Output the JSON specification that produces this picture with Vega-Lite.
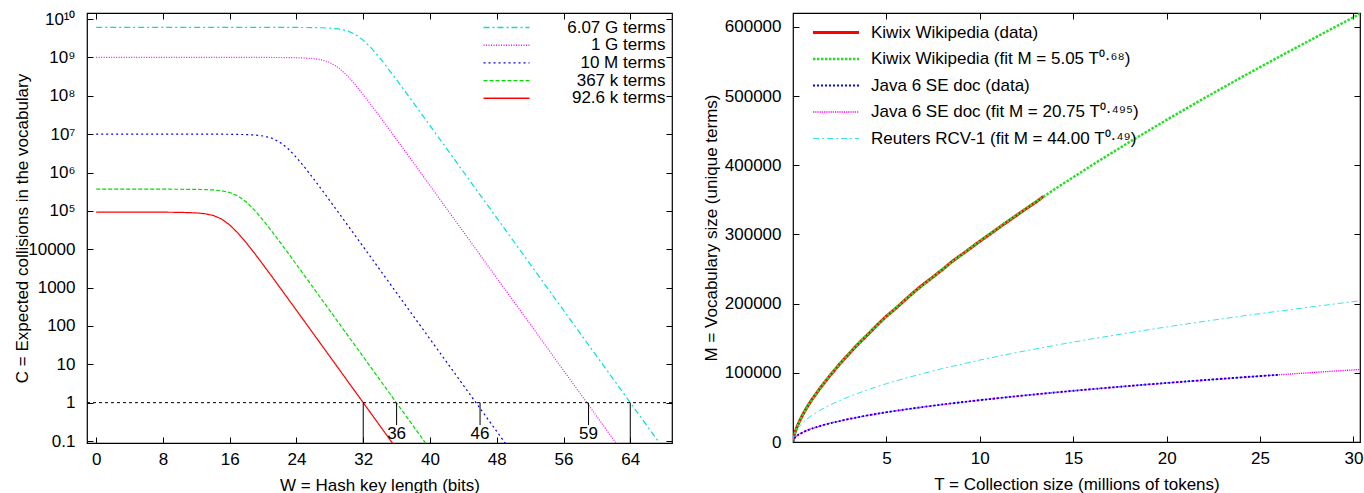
{
  "$schema": "https://vega.github.io/schema/vega-lite/v6.json",
  "padding": {"left": 13, "top": 9, "right": 0, "bottom": 0},
  "config": {
    "font": "Liberation Sans",
    "view": {"stroke": "#000", "strokeWidth": 1.2},
    "axis": {
      "labelFont": "Liberation Sans", "labelFontSize": 17, "labelColor": "#000",
      "titleFont": "Liberation Sans", "titleFontSize": 17, "titleFontWeight": "normal", "titleColor": "#000",
      "tickColor": "#000", "tickSize": -6, "tickWidth": 1, "domain": false, "grid": false
    },
    "axisX": {"labelPadding": 14, "titlePadding": 10},
    "axisY": {"labelPadding": 18, "titlePadding": -4},
    "legend": {"labelFont": "Liberation Sans", "labelFontSize": 17, "labelColor": "#000", "labelLimit": 500},
    "concat": {"spacing": 27}
  },
  "resolve": {
    "scale": {"color": "independent", "strokeDash": "independent", "strokeWidth": "independent"},
    "legend": {"color": "independent", "strokeDash": "independent", "strokeWidth": "independent"}
  },
  "hconcat": [
    {
      "width": 585,
      "height": 430,
      "layer": [
        {
          "data": {"values": [
            {"series": "6.07 G terms", "W": 0, "C": 6070000000},
            {"series": "6.07 G terms", "W": 20, "C": 6069000000},
            {"series": "6.07 G terms", "W": 24, "C": 6053000000},
            {"series": "6.07 G terms", "W": 26, "C": 6003000000},
            {"series": "6.07 G terms", "W": 27, "C": 5936000000},
            {"series": "6.07 G terms", "W": 28, "C": 5802000000},
            {"series": "6.07 G terms", "W": 29, "C": 5533000000},
            {"series": "6.07 G terms", "W": 30, "C": 5000000000},
            {"series": "6.07 G terms", "W": 31, "C": 4050000000},
            {"series": "6.07 G terms", "W": 32, "C": 2820000000},
            {"series": "6.07 G terms", "W": 33, "C": 1717000000},
            {"series": "6.07 G terms", "W": 34, "C": 957000000},
            {"series": "6.07 G terms", "W": 35, "C": 505900000},
            {"series": "6.07 G terms", "W": 36, "C": 260400000},
            {"series": "6.07 G terms", "W": 37, "C": 132100000},
            {"series": "6.07 G terms", "W": 38, "C": 66520000},
            {"series": "6.07 G terms", "W": 39, "C": 33390000},
            {"series": "6.07 G terms", "W": 40, "C": 16725000},
            {"series": "6.07 G terms", "W": 42, "C": 4186000},
            {"series": "6.07 G terms", "W": 44, "C": 1047000},
            {"series": "6.07 G terms", "W": 46, "C": 261800},
            {"series": "6.07 G terms", "W": 48, "C": 65450},
            {"series": "6.07 G terms", "W": 50, "C": 16360},
            {"series": "6.07 G terms", "W": 52, "C": 4090},
            {"series": "6.07 G terms", "W": 54, "C": 1023},
            {"series": "6.07 G terms", "W": 56, "C": 256},
            {"series": "6.07 G terms", "W": 58, "C": 63.9},
            {"series": "6.07 G terms", "W": 60, "C": 16.0},
            {"series": "6.07 G terms", "W": 62, "C": 4.0},
            {"series": "6.07 G terms", "W": 64, "C": 1.0},
            {"series": "6.07 G terms", "W": 66, "C": 0.25},
            {"series": "6.07 G terms", "W": 68, "C": 0.0624},
            {"series": "6.07 G terms", "W": 69, "C": 0.031},
            {"series": "1 G terms", "W": 0, "C": 1000000000},
            {"series": "1 G terms", "W": 16, "C": 999934000},
            {"series": "1 G terms", "W": 20, "C": 998950000},
            {"series": "1 G terms", "W": 22, "C": 995800000},
            {"series": "1 G terms", "W": 24, "C": 983200000},
            {"series": "1 G terms", "W": 25, "C": 966400000},
            {"series": "1 G terms", "W": 26, "C": 932900000},
            {"series": "1 G terms", "W": 27, "C": 865900000},
            {"series": "1 G terms", "W": 28, "C": 738000000},
            {"series": "1 G terms", "W": 29, "C": 546500000},
            {"series": "1 G terms", "W": 30, "C": 349400000},
            {"series": "1 G terms", "W": 31, "C": 200600000},
            {"series": "1 G terms", "W": 32, "C": 107800000},
            {"series": "1 G terms", "W": 33, "C": 56020000},
            {"series": "1 G terms", "W": 34, "C": 28550000},
            {"series": "1 G terms", "W": 35, "C": 14410000},
            {"series": "1 G terms", "W": 36, "C": 7241000},
            {"series": "1 G terms", "W": 37, "C": 3629000},
            {"series": "1 G terms", "W": 38, "C": 1817000},
            {"series": "1 G terms", "W": 40, "C": 454700},
            {"series": "1 G terms", "W": 42, "C": 113700},
            {"series": "1 G terms", "W": 44, "C": 28420},
            {"series": "1 G terms", "W": 46, "C": 7105},
            {"series": "1 G terms", "W": 48, "C": 1776},
            {"series": "1 G terms", "W": 50, "C": 444},
            {"series": "1 G terms", "W": 52, "C": 111},
            {"series": "1 G terms", "W": 54, "C": 27.8},
            {"series": "1 G terms", "W": 56, "C": 6.94},
            {"series": "1 G terms", "W": 58, "C": 1.73},
            {"series": "1 G terms", "W": 60, "C": 0.434},
            {"series": "1 G terms", "W": 62, "C": 0.108},
            {"series": "1 G terms", "W": 64, "C": 0.027},
            {"series": "10 M terms", "W": 0, "C": 10000000},
            {"series": "10 M terms", "W": 10, "C": 9999000},
            {"series": "10 M terms", "W": 14, "C": 9983600},
            {"series": "10 M terms", "W": 16, "C": 9934500},
            {"series": "10 M terms", "W": 18, "C": 9737900},
            {"series": "10 M terms", "W": 19, "C": 9475700},
            {"series": "10 M terms", "W": 20, "C": 8952000},
            {"series": "10 M terms", "W": 21, "C": 7920700},
            {"series": "10 M terms", "W": 22, "C": 6192400},
            {"series": "10 M terms", "W": 23, "C": 4158000},
            {"series": "10 M terms", "W": 24, "C": 2466700},
            {"series": "10 M terms", "W": 25, "C": 1352400},
            {"series": "10 M terms", "W": 26, "C": 709300},
            {"series": "10 M terms", "W": 27, "C": 363480},
            {"series": "10 M terms", "W": 28, "C": 183950},
            {"series": "10 M terms", "W": 29, "C": 92555},
            {"series": "10 M terms", "W": 30, "C": 46422},
            {"series": "10 M terms", "W": 31, "C": 23247},
            {"series": "10 M terms", "W": 32, "C": 11632},
            {"series": "10 M terms", "W": 34, "C": 2910},
            {"series": "10 M terms", "W": 36, "C": 727.6},
            {"series": "10 M terms", "W": 38, "C": 181.9},
            {"series": "10 M terms", "W": 40, "C": 45.5},
            {"series": "10 M terms", "W": 42, "C": 11.4},
            {"series": "10 M terms", "W": 44, "C": 2.84},
            {"series": "10 M terms", "W": 46, "C": 0.71},
            {"series": "10 M terms", "W": 48, "C": 0.178},
            {"series": "10 M terms", "W": 50, "C": 0.044},
            {"series": "367 k terms", "W": 0, "C": 367000},
            {"series": "367 k terms", "W": 8, "C": 366744},
            {"series": "367 k terms", "W": 10, "C": 365976},
            {"series": "367 k terms", "W": 12, "C": 362904},
            {"series": "367 k terms", "W": 13, "C": 358800},
            {"series": "367 k terms", "W": 14, "C": 350600},
            {"series": "367 k terms", "W": 15, "C": 334250},
            {"series": "367 k terms", "W": 16, "C": 301700},
            {"series": "367 k terms", "W": 17, "C": 243900},
            {"series": "367 k terms", "W": 18, "C": 169500},
            {"series": "367 k terms", "W": 19, "C": 103070},
            {"series": "367 k terms", "W": 20, "C": 57360},
            {"series": "367 k terms", "W": 21, "C": 30300},
            {"series": "367 k terms", "W": 22, "C": 15590},
            {"series": "367 k terms", "W": 23, "C": 7908},
            {"series": "367 k terms", "W": 24, "C": 3986},
            {"series": "367 k terms", "W": 25, "C": 1999},
            {"series": "367 k terms", "W": 26, "C": 1003.5},
            {"series": "367 k terms", "W": 28, "C": 250.9},
            {"series": "367 k terms", "W": 30, "C": 62.7},
            {"series": "367 k terms", "W": 32, "C": 15.7},
            {"series": "367 k terms", "W": 34, "C": 3.92},
            {"series": "367 k terms", "W": 36, "C": 0.98},
            {"series": "367 k terms", "W": 38, "C": 0.245},
            {"series": "367 k terms", "W": 40, "C": 0.061},
            {"series": "92.6 k terms", "W": 0, "C": 92599},
            {"series": "92.6 k terms", "W": 8, "C": 92344},
            {"series": "92.6 k terms", "W": 10, "C": 91576},
            {"series": "92.6 k terms", "W": 12, "C": 88500},
            {"series": "92.6 k terms", "W": 13, "C": 84400},
            {"series": "92.6 k terms", "W": 14, "C": 76270},
            {"series": "92.6 k terms", "W": 15, "C": 61780},
            {"series": "92.6 k terms", "W": 16, "C": 43020},
            {"series": "92.6 k terms", "W": 17, "C": 26200},
            {"series": "92.6 k terms", "W": 18, "C": 14580},
            {"series": "92.6 k terms", "W": 19, "C": 7710},
            {"series": "92.6 k terms", "W": 20, "C": 3969},
            {"series": "92.6 k terms", "W": 21, "C": 2014},
            {"series": "92.6 k terms", "W": 22, "C": 1015},
            {"series": "92.6 k terms", "W": 23, "C": 509},
            {"series": "92.6 k terms", "W": 24, "C": 255.5},
            {"series": "92.6 k terms", "W": 26, "C": 63.9},
            {"series": "92.6 k terms", "W": 28, "C": 16.0},
            {"series": "92.6 k terms", "W": 30, "C": 3.99},
            {"series": "92.6 k terms", "W": 32, "C": 1.0},
            {"series": "92.6 k terms", "W": 34, "C": 0.25},
            {"series": "92.6 k terms", "W": 36, "C": 0.0624},
            {"series": "92.6 k terms", "W": 37, "C": 0.031}
          ]},
          "mark": {"type": "line", "clip": true, "strokeWidth": 1.2},
          "encoding": {
            "x": {"field": "W", "type": "quantitative",
              "scale": {"domain": [-1.1, 69], "nice": false, "zero": false},
              "axis": {"orient": "bottom", "values": [0, 8, 16, 24, 32, 40, 48, 56, 64], "title": "W = Hash key length (bits)"}},
            "y": {"field": "C", "type": "quantitative",
              "scale": {"type": "log", "domain": [0.0887, 14400000000], "nice": false},
              "axis": {"orient": "left", "values": [0.1, 1, 10, 100, 1000, 10000, 100000, 1000000, 10000000, 100000000, 1000000000, 10000000000],
                "labelExpr": "datum.value >= 100000 ? (datum.value >= 1e10 ? '10¹⁰' : datum.value >= 1e9 ? '10⁹' : datum.value >= 1e8 ? '10⁸' : datum.value >= 1e7 ? '10⁷' : datum.value >= 1e6 ? '10⁶' : '10⁵') : datum.value >= 1 ? format(datum.value, 'd') : '0.1'",
                "title": "C = Expected collisions in the vocabulary"}},
            "color": {"field": "series", "type": "nominal",
              "scale": {"domain": ["6.07 G terms", "1 G terms", "10 M terms", "367 k terms", "92.6 k terms"],
                        "range": ["#00e0e0", "#ff00ff", "#0000ff", "#00dd00", "#ff0000"]},
              "legend": {"orient": "top-right", "offset": 6, "title": null, "padding": 0, "symbolType": "M-4,0H4", "symbolSize": 132, "symbolStrokeWidth": 1.4, "labelAlign": "right", "labelOffset": 150.5, "rowPadding": -0.3}},
            "strokeDash": {"field": "series", "type": "nominal",
              "scale": {"domain": ["6.07 G terms", "1 G terms", "10 M terms", "367 k terms", "92.6 k terms"],
                        "range": [[6, 3, 2, 3], [1, 1.5], [2, 3], [4, 2], [1, 0]]},
              "legend": {"orient": "top-right", "offset": 6, "title": null, "padding": 0, "symbolType": "M-4,0H4", "symbolSize": 132, "symbolStrokeWidth": 1.4, "labelAlign": "right", "labelOffset": 150.5, "rowPadding": -0.3}}
          }
        },
        {
          "data": {"values": [{"C": 1}]},
          "mark": {"type": "rule", "color": "#000", "strokeWidth": 1, "strokeDash": [3, 3]},
          "encoding": {"y": {"field": "C", "type": "quantitative", "axis": null}}
        },
        {
          "data": {"values": [
            {"W": 32, "top": 1, "bottom": 0.0887},
            {"W": 36, "top": 1, "bottom": 0.26},
            {"W": 46, "top": 1, "bottom": 0.26},
            {"W": 59, "top": 1, "bottom": 0.26},
            {"W": 64, "top": 1, "bottom": 0.0887}
          ]},
          "mark": {"type": "rule", "color": "#000", "strokeWidth": 1},
          "encoding": {
            "x": {"field": "W", "type": "quantitative", "axis": null},
            "y": {"field": "top", "type": "quantitative", "axis": null},
            "y2": {"field": "bottom"}
          }
        },
        {
          "data": {"values": [
            {"W": 36, "C": 0.155, "label": "36"},
            {"W": 46, "C": 0.155, "label": "46"},
            {"W": 59, "C": 0.155, "label": "59"}
          ]},
          "mark": {"type": "text", "font": "Liberation Sans", "fontSize": 17, "color": "#000", "align": "center", "baseline": "middle"},
          "encoding": {
            "x": {"field": "W", "type": "quantitative", "axis": null},
            "y": {"field": "C", "type": "quantitative", "axis": null},
            "text": {"field": "label"}
          }
        },
        {
          "data": {"values": [{"W": 0, "C": 1}]},
          "mark": {"type": "point", "opacity": 0},
          "encoding": {
            "x": {"field": "W", "type": "quantitative", "axis": {"orient": "top", "labels": false, "title": null, "values": [0, 8, 16, 24, 32, 40, 48, 56, 64]}},
            "y": {"field": "C", "type": "quantitative", "axis": {"orient": "right", "labels": false, "title": null, "values": [0.1, 1, 10, 100, 1000, 10000, 100000, 1000000, 10000000, 100000000, 1000000000, 10000000000]}}
          }
        }
      ],
      "resolve": {"axis": {"x": "independent", "y": "independent"}}
    },
    {
      "width": 567,
      "height": 429,
      "layer": [
        {
          "data": {"values": [
            {"series": "Kiwix Wikipedia (data)", "T": 0, "M": 0},
            {"series": "Kiwix Wikipedia (data)", "T": 0.02, "M": 4400},
            {"series": "Kiwix Wikipedia (data)", "T": 0.05, "M": 8300},
            {"series": "Kiwix Wikipedia (data)", "T": 0.1, "M": 13100},
            {"series": "Kiwix Wikipedia (data)", "T": 0.2, "M": 20900},
            {"series": "Kiwix Wikipedia (data)", "T": 0.3, "M": 27200},
            {"series": "Kiwix Wikipedia (data)", "T": 0.5, "M": 38400},
            {"series": "Kiwix Wikipedia (data)", "T": 0.75, "M": 50300},
            {"series": "Kiwix Wikipedia (data)", "T": 1, "M": 60900},
            {"series": "Kiwix Wikipedia (data)", "T": 1.5, "M": 79600},
            {"series": "Kiwix Wikipedia (data)", "T": 2, "M": 96700},
            {"series": "Kiwix Wikipedia (data)", "T": 2.5, "M": 112600},
            {"series": "Kiwix Wikipedia (data)", "T": 3, "M": 127600},
            {"series": "Kiwix Wikipedia (data)", "T": 3.5, "M": 142000},
            {"series": "Kiwix Wikipedia (data)", "T": 4, "M": 155200},
            {"series": "Kiwix Wikipedia (data)", "T": 4.5, "M": 168900},
            {"series": "Kiwix Wikipedia (data)", "T": 5, "M": 181800},
            {"series": "Kiwix Wikipedia (data)", "T": 5.5, "M": 193100},
            {"series": "Kiwix Wikipedia (data)", "T": 6, "M": 205300},
            {"series": "Kiwix Wikipedia (data)", "T": 6.5, "M": 217400},
            {"series": "Kiwix Wikipedia (data)", "T": 7, "M": 228400},
            {"series": "Kiwix Wikipedia (data)", "T": 7.5, "M": 238600},
            {"series": "Kiwix Wikipedia (data)", "T": 8, "M": 249200},
            {"series": "Kiwix Wikipedia (data)", "T": 8.5, "M": 260500},
            {"series": "Kiwix Wikipedia (data)", "T": 9, "M": 270300},
            {"series": "Kiwix Wikipedia (data)", "T": 9.5, "M": 280100},
            {"series": "Kiwix Wikipedia (data)", "T": 10, "M": 290100},
            {"series": "Kiwix Wikipedia (data)", "T": 10.5, "M": 299600},
            {"series": "Kiwix Wikipedia (data)", "T": 11, "M": 309300},
            {"series": "Kiwix Wikipedia (data)", "T": 11.5, "M": 318800},
            {"series": "Kiwix Wikipedia (data)", "T": 12, "M": 328200},
            {"series": "Kiwix Wikipedia (data)", "T": 12.5, "M": 337600},
            {"series": "Kiwix Wikipedia (data)", "T": 13, "M": 346600},
            {"series": "Kiwix Wikipedia (data)", "T": 13.4, "M": 354800},
            {"series": "Kiwix Wikipedia (fit M = 5.05 T⁰·⁶⁸)", "T": 0, "M": 0},
            {"series": "Kiwix Wikipedia (fit M = 5.05 T⁰·⁶⁸)", "T": 0.01, "M": 2650},
            {"series": "Kiwix Wikipedia (fit M = 5.05 T⁰·⁶⁸)", "T": 0.02, "M": 4247},
            {"series": "Kiwix Wikipedia (fit M = 5.05 T⁰·⁶⁸)", "T": 0.05, "M": 7918},
            {"series": "Kiwix Wikipedia (fit M = 5.05 T⁰·⁶⁸)", "T": 0.1, "M": 12676},
            {"series": "Kiwix Wikipedia (fit M = 5.05 T⁰·⁶⁸)", "T": 0.2, "M": 20326},
            {"series": "Kiwix Wikipedia (fit M = 5.05 T⁰·⁶⁸)", "T": 0.3, "M": 26775},
            {"series": "Kiwix Wikipedia (fit M = 5.05 T⁰·⁶⁸)", "T": 0.5, "M": 37895},
            {"series": "Kiwix Wikipedia (fit M = 5.05 T⁰·⁶⁸)", "T": 0.75, "M": 49930},
            {"series": "Kiwix Wikipedia (fit M = 5.05 T⁰·⁶⁸)", "T": 1, "M": 60712},
            {"series": "Kiwix Wikipedia (fit M = 5.05 T⁰·⁶⁸)", "T": 1.5, "M": 79980},
            {"series": "Kiwix Wikipedia (fit M = 5.05 T⁰·⁶⁸)", "T": 2, "M": 97265},
            {"series": "Kiwix Wikipedia (fit M = 5.05 T⁰·⁶⁸)", "T": 3, "M": 128150},
            {"series": "Kiwix Wikipedia (fit M = 5.05 T⁰·⁶⁸)", "T": 4, "M": 155840},
            {"series": "Kiwix Wikipedia (fit M = 5.05 T⁰·⁶⁸)", "T": 5, "M": 181370},
            {"series": "Kiwix Wikipedia (fit M = 5.05 T⁰·⁶⁸)", "T": 6, "M": 205740},
            {"series": "Kiwix Wikipedia (fit M = 5.05 T⁰·⁶⁸)", "T": 8, "M": 249670},
            {"series": "Kiwix Wikipedia (fit M = 5.05 T⁰·⁶⁸)", "T": 10, "M": 290600},
            {"series": "Kiwix Wikipedia (fit M = 5.05 T⁰·⁶⁸)", "T": 12, "M": 328900},
            {"series": "Kiwix Wikipedia (fit M = 5.05 T⁰·⁶⁸)", "T": 14, "M": 365310},
            {"series": "Kiwix Wikipedia (fit M = 5.05 T⁰·⁶⁸)", "T": 16, "M": 400030},
            {"series": "Kiwix Wikipedia (fit M = 5.05 T⁰·⁶⁸)", "T": 18, "M": 433390},
            {"series": "Kiwix Wikipedia (fit M = 5.05 T⁰·⁶⁸)", "T": 20, "M": 465550},
            {"series": "Kiwix Wikipedia (fit M = 5.05 T⁰·⁶⁸)", "T": 22, "M": 496700},
            {"series": "Kiwix Wikipedia (fit M = 5.05 T⁰·⁶⁸)", "T": 24, "M": 527000},
            {"series": "Kiwix Wikipedia (fit M = 5.05 T⁰·⁶⁸)", "T": 26, "M": 556460},
            {"series": "Kiwix Wikipedia (fit M = 5.05 T⁰·⁶⁸)", "T": 28, "M": 585230},
            {"series": "Kiwix Wikipedia (fit M = 5.05 T⁰·⁶⁸)", "T": 30.35, "M": 618900},
            {"series": "Java 6 SE doc (fit M = 20.75 T⁰·⁴⁹⁵)", "T": 0, "M": 0},
            {"series": "Java 6 SE doc (fit M = 20.75 T⁰·⁴⁹⁵)", "T": 0.01, "M": 1981},
            {"series": "Java 6 SE doc (fit M = 20.75 T⁰·⁴⁹⁵)", "T": 0.02, "M": 2793},
            {"series": "Java 6 SE doc (fit M = 20.75 T⁰·⁴⁹⁵)", "T": 0.05, "M": 4395},
            {"series": "Java 6 SE doc (fit M = 20.75 T⁰·⁴⁹⁵)", "T": 0.1, "M": 6194},
            {"series": "Java 6 SE doc (fit M = 20.75 T⁰·⁴⁹⁵)", "T": 0.2, "M": 8730},
            {"series": "Java 6 SE doc (fit M = 20.75 T⁰·⁴⁹⁵)", "T": 0.3, "M": 10673},
            {"series": "Java 6 SE doc (fit M = 20.75 T⁰·⁴⁹⁵)", "T": 0.5, "M": 13730},
            {"series": "Java 6 SE doc (fit M = 20.75 T⁰·⁴⁹⁵)", "T": 0.75, "M": 16795},
            {"series": "Java 6 SE doc (fit M = 20.75 T⁰·⁴⁹⁵)", "T": 1, "M": 19370},
            {"series": "Java 6 SE doc (fit M = 20.75 T⁰·⁴⁹⁵)", "T": 1.5, "M": 23667},
            {"series": "Java 6 SE doc (fit M = 20.75 T⁰·⁴⁹⁵)", "T": 2, "M": 27303},
            {"series": "Java 6 SE doc (fit M = 20.75 T⁰·⁴⁹⁵)", "T": 3, "M": 33380},
            {"series": "Java 6 SE doc (fit M = 20.75 T⁰·⁴⁹⁵)", "T": 4, "M": 38462},
            {"series": "Java 6 SE doc (fit M = 20.75 T⁰·⁴⁹⁵)", "T": 5, "M": 42950},
            {"series": "Java 6 SE doc (fit M = 20.75 T⁰·⁴⁹⁵)", "T": 6, "M": 47010},
            {"series": "Java 6 SE doc (fit M = 20.75 T⁰·⁴⁹⁵)", "T": 8, "M": 54200},
            {"series": "Java 6 SE doc (fit M = 20.75 T⁰·⁴⁹⁵)", "T": 10, "M": 60540},
            {"series": "Java 6 SE doc (fit M = 20.75 T⁰·⁴⁹⁵)", "T": 12, "M": 66260},
            {"series": "Java 6 SE doc (fit M = 20.75 T⁰·⁴⁹⁵)", "T": 14, "M": 71510},
            {"series": "Java 6 SE doc (fit M = 20.75 T⁰·⁴⁹⁵)", "T": 16, "M": 76390},
            {"series": "Java 6 SE doc (fit M = 20.75 T⁰·⁴⁹⁵)", "T": 18, "M": 80980},
            {"series": "Java 6 SE doc (fit M = 20.75 T⁰·⁴⁹⁵)", "T": 20, "M": 85310},
            {"series": "Java 6 SE doc (fit M = 20.75 T⁰·⁴⁹⁵)", "T": 22, "M": 89430},
            {"series": "Java 6 SE doc (fit M = 20.75 T⁰·⁴⁹⁵)", "T": 24, "M": 93370},
            {"series": "Java 6 SE doc (fit M = 20.75 T⁰·⁴⁹⁵)", "T": 26, "M": 97140},
            {"series": "Java 6 SE doc (fit M = 20.75 T⁰·⁴⁹⁵)", "T": 28, "M": 100770},
            {"series": "Java 6 SE doc (fit M = 20.75 T⁰·⁴⁹⁵)", "T": 30.35, "M": 104870},
            {"series": "Java 6 SE doc (data)", "T": 0, "M": 0},
            {"series": "Java 6 SE doc (data)", "T": 0.02, "M": 3000},
            {"series": "Java 6 SE doc (data)", "T": 0.05, "M": 4500},
            {"series": "Java 6 SE doc (data)", "T": 0.1, "M": 6300},
            {"series": "Java 6 SE doc (data)", "T": 0.2, "M": 8800},
            {"series": "Java 6 SE doc (data)", "T": 0.3, "M": 10700},
            {"series": "Java 6 SE doc (data)", "T": 0.5, "M": 13600},
            {"series": "Java 6 SE doc (data)", "T": 0.75, "M": 16700},
            {"series": "Java 6 SE doc (data)", "T": 1, "M": 19300},
            {"series": "Java 6 SE doc (data)", "T": 1.5, "M": 23500},
            {"series": "Java 6 SE doc (data)", "T": 2, "M": 27200},
            {"series": "Java 6 SE doc (data)", "T": 3, "M": 33300},
            {"series": "Java 6 SE doc (data)", "T": 4, "M": 38500},
            {"series": "Java 6 SE doc (data)", "T": 5, "M": 43100},
            {"series": "Java 6 SE doc (data)", "T": 6, "M": 47000},
            {"series": "Java 6 SE doc (data)", "T": 7, "M": 50800},
            {"series": "Java 6 SE doc (data)", "T": 8, "M": 54300},
            {"series": "Java 6 SE doc (data)", "T": 9, "M": 57400},
            {"series": "Java 6 SE doc (data)", "T": 10, "M": 60500},
            {"series": "Java 6 SE doc (data)", "T": 11, "M": 63400},
            {"series": "Java 6 SE doc (data)", "T": 12, "M": 66300},
            {"series": "Java 6 SE doc (data)", "T": 13, "M": 68900},
            {"series": "Java 6 SE doc (data)", "T": 14, "M": 71500},
            {"series": "Java 6 SE doc (data)", "T": 15, "M": 74000},
            {"series": "Java 6 SE doc (data)", "T": 16, "M": 76400},
            {"series": "Java 6 SE doc (data)", "T": 17, "M": 78700},
            {"series": "Java 6 SE doc (data)", "T": 18, "M": 81000},
            {"series": "Java 6 SE doc (data)", "T": 19, "M": 83200},
            {"series": "Java 6 SE doc (data)", "T": 20, "M": 85300},
            {"series": "Java 6 SE doc (data)", "T": 21, "M": 87400},
            {"series": "Java 6 SE doc (data)", "T": 22, "M": 89400},
            {"series": "Java 6 SE doc (data)", "T": 23, "M": 91400},
            {"series": "Java 6 SE doc (data)", "T": 24, "M": 93400},
            {"series": "Java 6 SE doc (data)", "T": 25, "M": 95300},
            {"series": "Java 6 SE doc (data)", "T": 26, "M": 97100},
            {"series": "Reuters RCV-1 (fit M = 44.00 T⁰·⁴⁹)", "T": 0, "M": 0},
            {"series": "Reuters RCV-1 (fit M = 44.00 T⁰·⁴⁹)", "T": 0.01, "M": 4013},
            {"series": "Reuters RCV-1 (fit M = 44.00 T⁰·⁴⁹)", "T": 0.02, "M": 5636},
            {"series": "Reuters RCV-1 (fit M = 44.00 T⁰·⁴⁹)", "T": 0.05, "M": 8831},
            {"series": "Reuters RCV-1 (fit M = 44.00 T⁰·⁴⁹)", "T": 0.1, "M": 12389},
            {"series": "Reuters RCV-1 (fit M = 44.00 T⁰·⁴⁹)", "T": 0.2, "M": 17416},
            {"series": "Reuters RCV-1 (fit M = 44.00 T⁰·⁴⁹)", "T": 0.3, "M": 21242},
            {"series": "Reuters RCV-1 (fit M = 44.00 T⁰·⁴⁹)", "T": 0.5, "M": 27300},
            {"series": "Reuters RCV-1 (fit M = 44.00 T⁰·⁴⁹)", "T": 0.75, "M": 33309},
            {"series": "Reuters RCV-1 (fit M = 44.00 T⁰·⁴⁹)", "T": 1, "M": 38323},
            {"series": "Reuters RCV-1 (fit M = 44.00 T⁰·⁴⁹)", "T": 1.5, "M": 46748},
            {"series": "Reuters RCV-1 (fit M = 44.00 T⁰·⁴⁹)", "T": 2, "M": 53820},
            {"series": "Reuters RCV-1 (fit M = 44.00 T⁰·⁴⁹)", "T": 3, "M": 65660},
            {"series": "Reuters RCV-1 (fit M = 44.00 T⁰·⁴⁹)", "T": 4, "M": 75600},
            {"series": "Reuters RCV-1 (fit M = 44.00 T⁰·⁴⁹)", "T": 5, "M": 84330},
            {"series": "Reuters RCV-1 (fit M = 44.00 T⁰·⁴⁹)", "T": 6, "M": 92210},
            {"series": "Reuters RCV-1 (fit M = 44.00 T⁰·⁴⁹)", "T": 8, "M": 106160},
            {"series": "Reuters RCV-1 (fit M = 44.00 T⁰·⁴⁹)", "T": 10, "M": 118430},
            {"series": "Reuters RCV-1 (fit M = 44.00 T⁰·⁴⁹)", "T": 12, "M": 129500},
            {"series": "Reuters RCV-1 (fit M = 44.00 T⁰·⁴⁹)", "T": 14, "M": 139660},
            {"series": "Reuters RCV-1 (fit M = 44.00 T⁰·⁴⁹)", "T": 16, "M": 148990},
            {"series": "Reuters RCV-1 (fit M = 44.00 T⁰·⁴⁹)", "T": 18, "M": 157910},
            {"series": "Reuters RCV-1 (fit M = 44.00 T⁰·⁴⁹)", "T": 20, "M": 166320},
            {"series": "Reuters RCV-1 (fit M = 44.00 T⁰·⁴⁹)", "T": 22, "M": 174260},
            {"series": "Reuters RCV-1 (fit M = 44.00 T⁰·⁴⁹)", "T": 24, "M": 181880},
            {"series": "Reuters RCV-1 (fit M = 44.00 T⁰·⁴⁹)", "T": 26, "M": 189150},
            {"series": "Reuters RCV-1 (fit M = 44.00 T⁰·⁴⁹)", "T": 28, "M": 196150},
            {"series": "Reuters RCV-1 (fit M = 44.00 T⁰·⁴⁹)", "T": 30.35, "M": 204050}
          ]},
          "mark": {"type": "line", "clip": true},
          "encoding": {
            "x": {"field": "T", "type": "quantitative",
              "scale": {"domain": [0, 30.35], "nice": false, "zero": false},
              "axis": {"orient": "bottom", "values": [5, 10, 15, 20, 25, 30], "title": "T = Collection size (millions of tokens)"}},
            "y": {"field": "M", "type": "quantitative",
              "scale": {"domain": [0, 620000], "nice": false},
              "axis": {"orient": "left", "values": [0, 100000, 200000, 300000, 400000, 500000, 600000], "format": "d", "titlePadding": 4, "title": "M = Vocabulary size (unique terms)"}},
            "color": {"field": "series", "type": "nominal",
              "scale": {"domain": ["Kiwix Wikipedia (data)", "Kiwix Wikipedia (fit M = 5.05 T⁰·⁶⁸)", "Java 6 SE doc (data)", "Java 6 SE doc (fit M = 20.75 T⁰·⁴⁹⁵)", "Reuters RCV-1 (fit M = 44.00 T⁰·⁴⁹)"],
                        "range": ["#ff0000", "#22e022", "#0000ff", "#ff00ff", "#00e0e0"]},
              "legend": {"orient": "top-left", "offset": 1, "title": null, "padding": 10, "symbolType": "M-4,0H4", "symbolSize": 132, "symbolOffset": 23.5, "labelOffset": 26.5, "rowPadding": 8.5}},
            "strokeDash": {"field": "series", "type": "nominal",
              "scale": {"domain": ["Kiwix Wikipedia (data)", "Kiwix Wikipedia (fit M = 5.05 T⁰·⁶⁸)", "Java 6 SE doc (data)", "Java 6 SE doc (fit M = 20.75 T⁰·⁴⁹⁵)", "Reuters RCV-1 (fit M = 44.00 T⁰·⁴⁹)"],
                        "range": [[1, 0], [2.5, 1.5], [2, 2], [1.2, 1], [6, 3, 2, 3]]},
              "legend": {"orient": "top-left", "offset": 1, "title": null, "padding": 10, "symbolType": "M-4,0H4", "symbolSize": 132, "symbolOffset": 23.5, "labelOffset": 26.5, "rowPadding": 8.5}},
            "strokeWidth": {"field": "series", "type": "nominal",
              "scale": {"domain": ["Kiwix Wikipedia (data)", "Kiwix Wikipedia (fit M = 5.05 T⁰·⁶⁸)", "Java 6 SE doc (data)", "Java 6 SE doc (fit M = 20.75 T⁰·⁴⁹⁵)", "Reuters RCV-1 (fit M = 44.00 T⁰·⁴⁹)"],
                        "range": [3, 0.8, 3, 1.6, 1.2]},
              "legend": {"orient": "top-left", "offset": 1, "title": null, "padding": 10, "symbolType": "M-4,0H4", "symbolSize": 132, "symbolOffset": 23.5, "labelOffset": 26.5, "rowPadding": 8.5}}
          }
        },
        {
          "data": {"values": [{"T": 0, "M": 0}]},
          "mark": {"type": "point", "opacity": 0},
          "encoding": {
            "x": {"field": "T", "type": "quantitative", "axis": {"orient": "top", "labels": false, "title": null, "values": [5, 10, 15, 20, 25, 30]}},
            "y": {"field": "M", "type": "quantitative", "axis": {"orient": "right", "labels": false, "title": null, "values": [0, 100000, 200000, 300000, 400000, 500000, 600000]}}
          }
        }
      ],
      "resolve": {"axis": {"x": "independent", "y": "independent"}}
    }
  ]
}
